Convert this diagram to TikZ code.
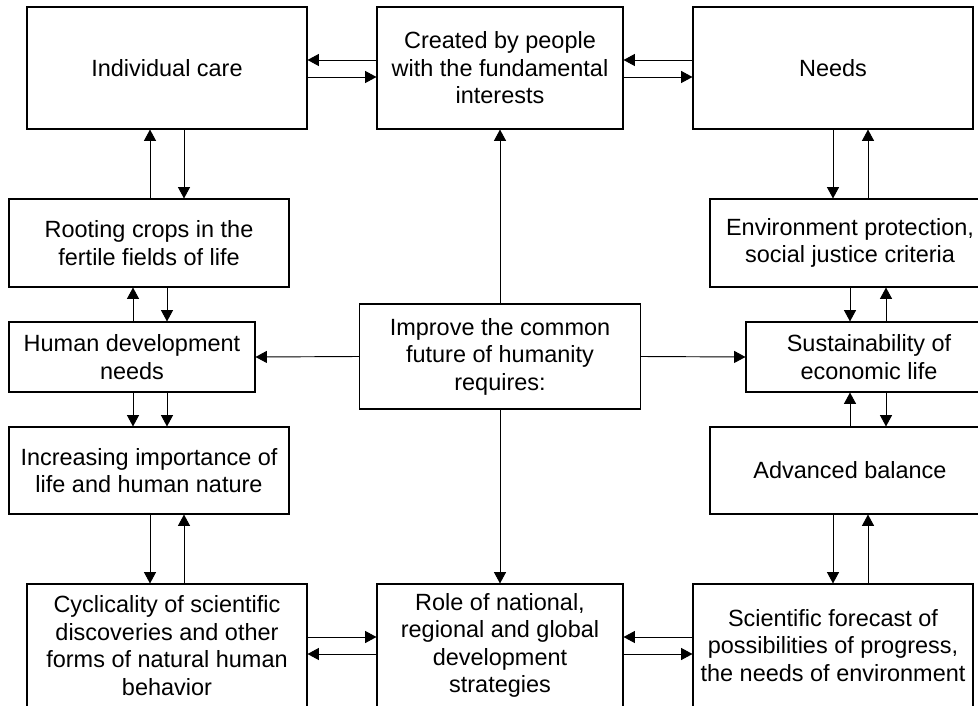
\documentclass[tikz,border=0pt]{standalone}
\usepackage{fontspec}
\setmainfont{Liberation Sans}
\usetikzlibrary{arrows.meta}

\begin{document}
\begin{tikzpicture}[x=0.75pt,y=-0.75pt,
  box/.style={draw,line width=0.8pt,align=center,inner sep=0pt,
    font=\fontsize{17.6}{20.6}\selectfont},
  arr/.style={-{Triangle[width=9pt,length=8.5pt]},line width=0.7pt}]

\useasboundingbox (0,0) rectangle (978,706);

% Nodes
\node[box,minimum width=210pt,minimum height=91.5pt] (care) at (167,68) {Individual care};
\node[box,minimum width=184.5pt,minimum height=91.5pt] (created) at (500,68) {Created by people\\with the fundamental\\interests};
\node[box,minimum width=210pt,minimum height=91.5pt] (needs) at (833,68) {Needs};
\node[box,minimum width=210pt,minimum height=66pt] (rooting) at (149,243) {Rooting crops in the\\fertile fields of life};
\node[box,minimum width=210pt,minimum height=66pt] (envir) at (850,243) {Environment protection,\\social justice criteria};
\node[box,minimum width=184.5pt,minimum height=52.5pt] (humdev) at (132,357) {Human development\\needs};
\node[box,minimum width=210.75pt,minimum height=78.75pt] (improve) at (500,356.5) {Improve the common\\future of humanity\\requires:};
\node[box,minimum width=184.5pt,minimum height=52.5pt] (sustain) at (869,357) {Sustainability of\\economic life};
\node[box,minimum width=210pt,minimum height=65.25pt] (increase) at (149,470.5) {Increasing importance of\\life and human nature};
\node[box,minimum width=210pt,minimum height=65.25pt] (balance) at (850,470.5) {Advanced balance};
\node[box,minimum width=210pt,minimum height=92.25pt] (cyclic) at (167,645.5) {Cyclicality of scientific\\discoveries and other\\forms of natural human\\behavior};
\node[box,minimum width=184.5pt,minimum height=92.25pt] (role) at (500,645.5) {Role of national,\\regional and global\\development\\strategies};
\node[box,minimum width=210pt,minimum height=92.25pt] (forecast) at (833,645.5) {Scientific forecast of\\possibilities of progress,\\the needs of environment};

% Edges
\draw[arr] (created.west |- 0,60) -- (care.east |- 0,60);
\draw[arr] (care.east |- 0,77) -- (created.west |- 0,77);
\draw[arr] (needs.west |- 0,60) -- (created.east |- 0,60);
\draw[arr] (created.east |- 0,77) -- (needs.west |- 0,77);

\draw[arr] (rooting.north -| 150,0) -- (care.south -| 150,0);
\draw[arr] (care.south -| 184,0) -- (rooting.north -| 184,0);
\draw[arr] (humdev.north -| 133,0) -- (rooting.south -| 133,0);
\draw[arr] (rooting.south -| 167,0) -- (humdev.north -| 167,0);
\draw[arr] (humdev.south -| 133,0) -- (increase.north -| 133,0);
\draw[arr] (humdev.south -| 167,0) -- (increase.north -| 167,0);
\draw[arr] (increase.south -| 150,0) -- (cyclic.north -| 150,0);
\draw[arr] (cyclic.north -| 184,0) -- (increase.south -| 184,0);

\draw[arr] (needs.south -| 833,0) -- (envir.north -| 833,0);
\draw[arr] (envir.north -| 868,0) -- (needs.south -| 868,0);
\draw[arr] (envir.south -| 850,0) -- (sustain.north -| 850,0);
\draw[arr] (sustain.north -| 886,0) -- (envir.south -| 886,0);
\draw[arr] (balance.north -| 850,0) -- (sustain.south -| 850,0);
\draw[arr] (sustain.south -| 886,0) -- (balance.north -| 886,0);
\draw[arr] (balance.south -| 833,0) -- (forecast.north -| 833,0);
\draw[arr] (forecast.north -| 868,0) -- (balance.south -| 868,0);

\draw[arr] (cyclic.east |- 0,637) -- (role.west |- 0,637);
\draw[arr] (role.west |- 0,654) -- (cyclic.east |- 0,654);
\draw[arr] (forecast.west |- 0,637) -- (role.east |- 0,637);
\draw[arr] (role.east |- 0,654) -- (forecast.west |- 0,654);

\draw[arr] (improve.north) -- (created.south);
\draw[arr] (improve.south) -- (role.north);
\draw[arr] (improve.west) -- (humdev.east);
\draw[arr] (improve.east) -- (sustain.west);

\end{tikzpicture}
\end{document}
